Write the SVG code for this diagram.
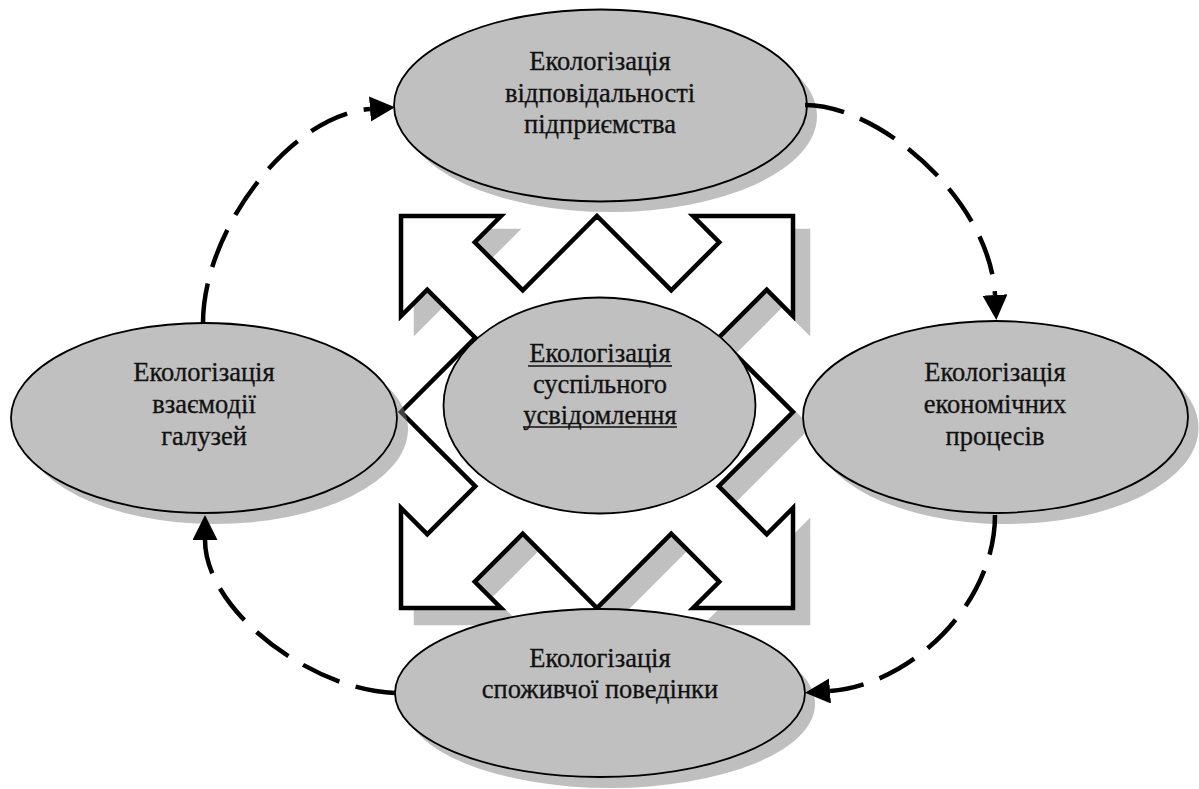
<svg xmlns="http://www.w3.org/2000/svg" width="1199" height="789" viewBox="0 0 1199 789">
<defs>
<style>
text{font-family:'Liberation Serif','Times New Roman',serif;font-size:26.5px;fill:#111;stroke:#111;stroke-width:0.3;text-anchor:middle}
.ell{fill:#c0c0c0;stroke:#000;stroke-width:1.8}
.sh{fill:#808080;fill-opacity:0.5}
.con{fill:none;stroke:#000;stroke-width:4.5;stroke-dasharray:40 17;marker-end:url(#ah)}
.star{fill:#fff;stroke:#000;stroke-width:4.5;stroke-linejoin:miter}
.starsh{fill:#c0c0c0;stroke:#c0c0c0;stroke-width:4.5}
.ul{stroke:#111;stroke-width:1.6}
</style>
<marker id="ah" markerUnits="userSpaceOnUse" markerWidth="26" markerHeight="26" refX="0" refY="12.5" orient="auto">
<path d="M0,0 L25,12.5 L0,25 Z" fill="#000"/>
</marker>
<polygon id="starShape" points="597,216 671.25,290.25 719.25,242.25 693,216 793,216 793,316 766.75,289.75 718.75,337.75 793,412 718.75,486.25 766.75,534.25 793,508 793,608 693,608 719.25,581.75 671.25,533.75 597,608 522.75,533.75 474.75,581.75 501,608 401,608 401,508 427.25,534.25 475.25,486.25 401,412 475.25,337.75 427.25,289.75 401,316 401,216 501,216 474.75,242.25 522.75,290.25"/>
</defs>
<rect width="1199" height="789" fill="#fff"/>

<g id="arrows-cross">
<use href="#starShape" class="starsh" transform="translate(15,15)"/>
<use href="#starShape" class="star"/>
</g>

<g id="node-center">
<ellipse class="ell" cx="599.5" cy="405.5" rx="156" ry="108"/>
<text><tspan x="600" y="362">Екологізація</tspan><tspan x="600" y="393">суспільного</tspan><tspan x="600" y="424">усвідомлення</tspan></text>
<line class="ul" x1="528" y1="366" x2="672" y2="366"/>
<line class="ul" x1="523" y1="427" x2="677" y2="427"/>
</g>

<g id="node-top">
<ellipse class="sh" cx="610.5" cy="116" rx="206.5" ry="96"/>
<ellipse class="ell" cx="600.5" cy="105.5" rx="206.5" ry="96"/>
<text><tspan x="600" y="70">Екологізація</tspan><tspan x="600" y="102">відповідальності</tspan><tspan x="600" y="133">підприємства</tspan></text>
</g>

<g id="node-left">
<ellipse class="sh" cx="215" cy="429" rx="193" ry="95"/>
<ellipse class="ell" cx="204" cy="418" rx="193" ry="95"/>
<text><tspan x="204" y="381">Екологізація</tspan><tspan x="204" y="413">взаємодії</tspan><tspan x="204" y="445">галузей</tspan></text>
</g>

<g id="node-right">
<ellipse class="sh" cx="1006" cy="428" rx="192.5" ry="96"/>
<ellipse class="ell" cx="995.5" cy="417" rx="192.5" ry="96"/>
<text><tspan x="995" y="381">Екологізація</tspan><tspan x="995" y="413">економічних</tspan><tspan x="995" y="445">процесів</tspan></text>
</g>

<g id="node-bottom">
<ellipse class="sh" cx="610" cy="704" rx="205" ry="84"/>
<ellipse class="ell" cx="600" cy="693" rx="205" ry="84"/>
<text><tspan x="600" y="667">Екологізація</tspan><tspan x="600" y="698">споживчої поведінки</tspan></text>
</g>

<g id="connectors">
<path class="con" d="M203,323 C203,230 290,115 370,109"/>
<path class="con" d="M805,105 C880,105 990,200 995,295"/>
<path class="con" d="M995,515 C995,605 910,685 830,691"/>
<path class="con" d="M395,693 C310,690 205,610 205,540"/>
</g>
</svg>
